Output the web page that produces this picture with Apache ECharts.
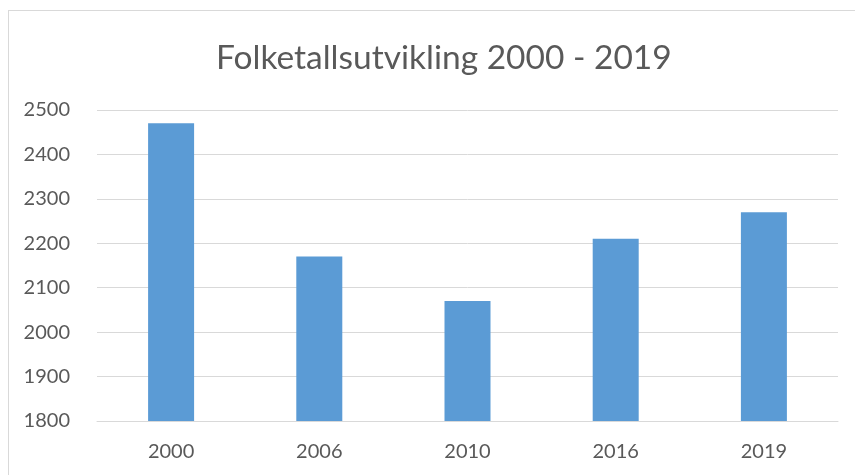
<!DOCTYPE html>
<html>
<head>
<meta charset="utf-8">
<script src="https://cdn.jsdelivr.net/npm/echarts@6/dist/echarts.min.js"></script>
<style>
  html, body { margin: 0; padding: 0; background: #fff; }
  #frame {
    position: absolute; left: 8px; top: 10px; width: 850px; height: 470px;
    border: 1px solid #d9d9d9; box-sizing: border-box;
  }
  #chart { position: absolute; left: 0; top: 0; width: 855px; height: 475px; }
</style>
</head>
<body>
<div id="frame"></div>
<div id="chart"></div>
<script>
const years = ['2000', '2006', '2010', '2016', '2019'];
const population = [2470, 2170, 2070, 2210, 2270];
const yMin = 1800;
const yMax = 2500;
const yStep = 100;

const chart = echarts.init(document.getElementById('chart'));

chart.setOption({
  animation: false,
  title: {
    text: 'Folketallsutvikling 2000 - 2019',
    left: 211,
    top: 36,
    textStyle: {
      fontFamily: 'Lato',
      fontSize: 33.5,
      fontWeight: 'normal',
      color: '#595959',
    },
  },
  grid: {
    left: 97,
    right: 17,
    top: 110,
    bottom: 54,
  },
  xAxis: {
    type: 'category',
    data: years,
    axisTick: { show: false },
    axisLine: { lineStyle: { color: '#d9d9d9', width: 1 } },
    axisLabel: {
      margin: 21,
      fontFamily: 'Lato',
      fontSize: 20,
      color: '#595959',
    },
  },
  yAxis: {
    type: 'value',
    min: yMin,
    max: yMax,
    interval: yStep,
    axisLine: { show: false },
    axisTick: { show: false },
    splitLine: { lineStyle: { color: '#d9d9d9', width: 1 } },
    axisLabel: {
      margin: 27,
      fontFamily: 'Lato',
      fontSize: 20,
      color: '#595959',
      formatter: (value) => String(value),
    },
  },
  series: [
    {
      type: 'bar',
      data: population,
      barWidth: 46,
      itemStyle: { color: '#5b9bd5' },
    },
  ],
});
</script>
</body>
</html>
